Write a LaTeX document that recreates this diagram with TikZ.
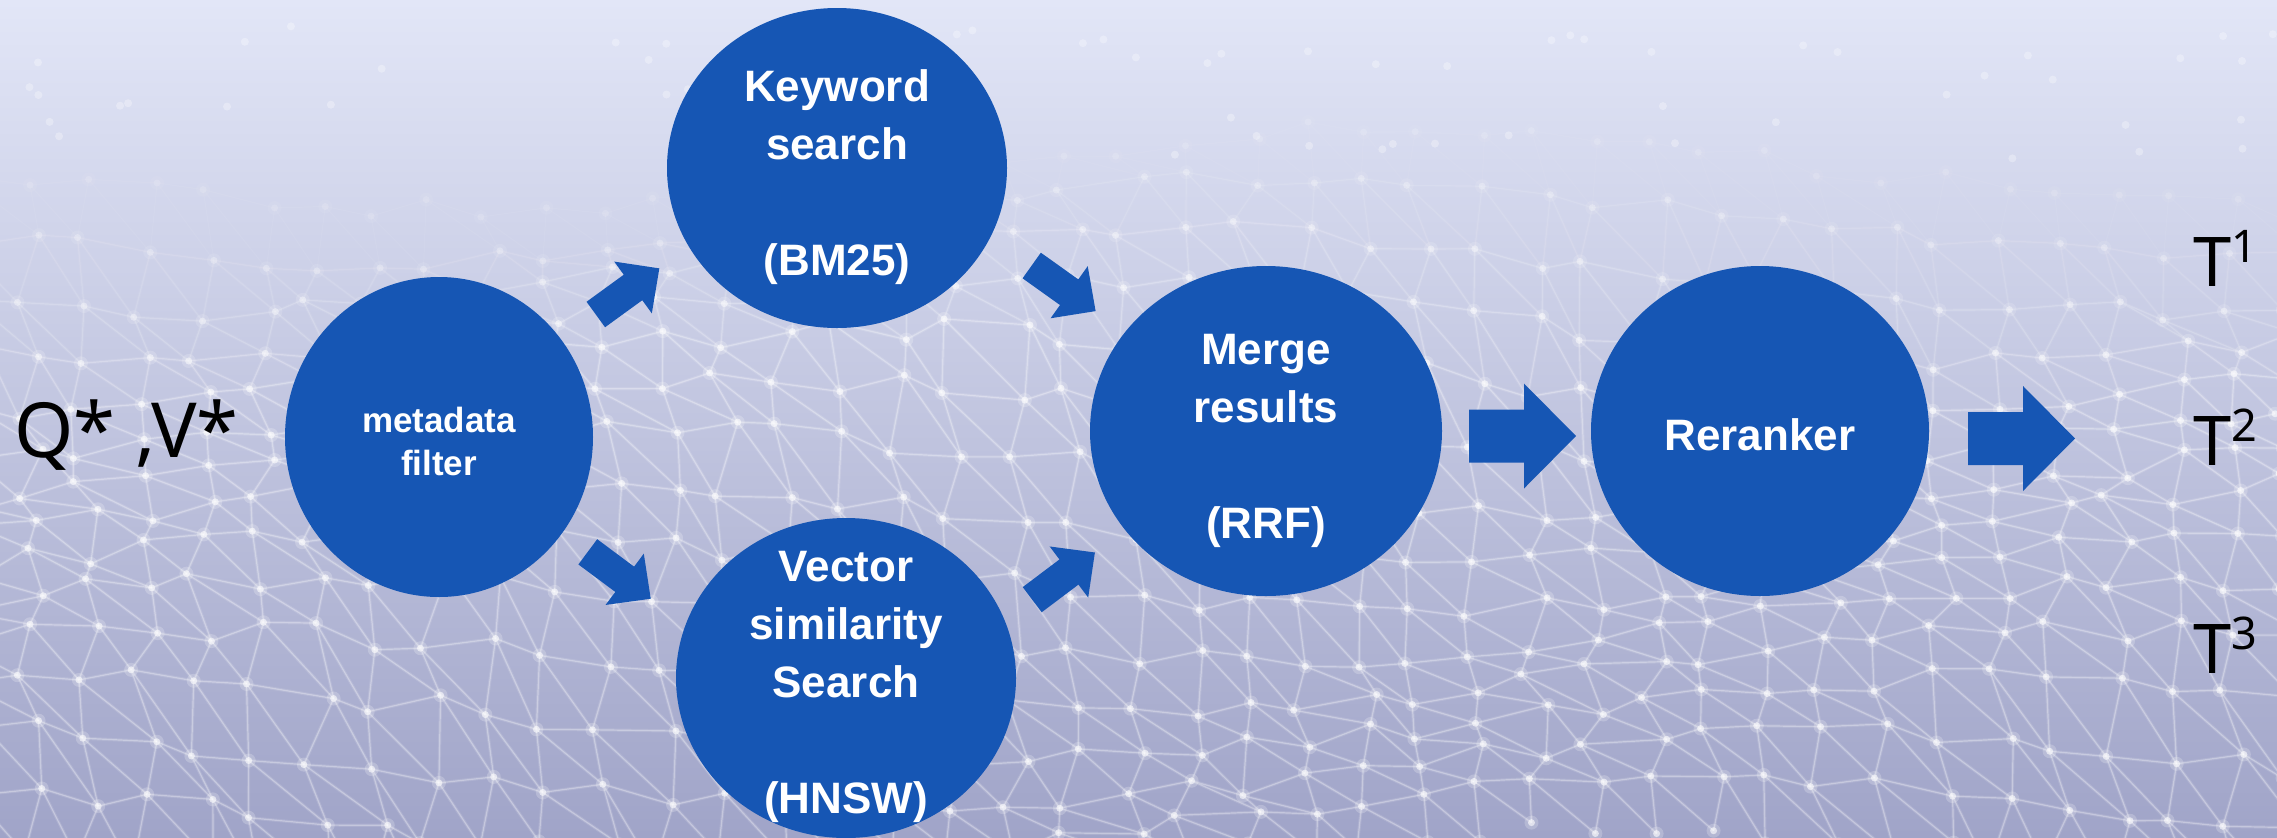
\documentclass[tikz,border=0pt]{standalone}
\usepackage{fontspec}
\setmainfont{Liberation Sans}
\newfontfamily\lblfont{Noto Sans}
\usetikzlibrary{shapes.geometric}
\definecolor{nodeblue}{RGB}{22,86,180}
\definecolor{bgtop}{RGB}{226,230,247}
\definecolor{bgmid}{RGB}{188,198,237}
\definecolor{bgbot}{RGB}{160,164,200}
\newcommand{\blockarrowS}[2]{%
  \fill[nodeblue, shift={(#1)}, rotate=#2] (0,-15.75) -- (46,-15.75) -- (46,-32) -- (78.5,0) -- (46,32) -- (46,15.75) -- (0,15.75) -- cycle;}
\newcommand{\blockarrowB}[1]{%
  \fill[nodeblue, shift={(#1)}] (0,-26.5) -- (55,-26.5) -- (55,-52.5) -- (107,0) -- (55,52.5) -- (55,26.5) -- (0,26.5) -- cycle;}
\begin{document}
\begin{tikzpicture}[x=0.5pt,y=-0.5pt,
  bubble/.style={ellipse, fill=nodeblue, draw=none, inner sep=0pt},
  btext/.style={text=white, font=\bfseries\fontsize{22}{29}\selectfont, align=center, inner sep=0pt},
  stext/.style={text=white, font=\bfseries\fontsize{17.5}{21.5}\selectfont, align=center, inner sep=0pt},
  lbl/.style={text=black, inner sep=0pt, anchor=base west},
  meshglow/.style={white, line width=1.6pt},
  meshline/.style={white, line width=0.6pt},
  meshdot/.style={white}]
\useasboundingbox (0,0) rectangle (2277,837);
\shade[top color=bgtop, middle color=bgmid, bottom color=bgbot] (0,0) rectangle (2277,837);
\begin{scope}
\clip (0,0) rectangle (2277,837);
\pgfmathsetseed{12}
\foreach \i in {0,...,40}{
  \foreach \j in {0,...,14}{
    \pgfmathsetmacro{\px}{\i*58-30+16*rand}
    \pgfmathsetmacro{\py}{170+\j*50+40*sin(\i*11+\j*23)+12*rand}
    \coordinate (m-\i-\j) at (\px,\py);
  }
}
\foreach \j in {0,...,13}{
  \pgfmathtruncatemacro{\nj}{\j+1}
  \pgfmathsetmacro{\op}{min(0.3,0.05+0.06*\j)}
  \foreach \i in {0,...,39}{
    \pgfmathtruncatemacro{\ni}{\i+1}
    \draw[meshglow, opacity=0.4*\op] (m-\i-\j) -- (m-\ni-\j) (m-\i-\j) -- (m-\i-\nj) (m-\i-\j) -- (m-\ni-\nj);
    \draw[meshline, opacity=\op] (m-\i-\j) -- (m-\ni-\j) (m-\i-\j) -- (m-\i-\nj) (m-\i-\j) -- (m-\ni-\nj);
  }
}
\foreach \j in {0,...,14}{
  \pgfmathsetmacro{\dop}{min(0.6,0.15+0.12*\j)}
  \foreach \i in {0,...,40}{
    \fill[meshdot, opacity=0.35*\dop] (m-\i-\j) circle (7);
    \fill[meshdot, opacity=\dop] (m-\i-\j) circle (3.5);
  }
}
\foreach \k in {1,...,60}{
  \pgfmathsetmacro{\dx}{1138+1138*rand}
  \pgfmathsetmacro{\dy}{90+70*rand}
  \coordinate (d-\k) at (\dx,\dy);
  \fill[white, opacity=0.3] (d-\k) circle (4);
}
\end{scope}
% bubbles
\node[bubble, minimum width=154pt, minimum height=160pt] (mf) at (439,437) {};
\node[bubble, minimum width=170pt, minimum height=160pt] (kw) at (837,168) {};
\node[bubble, minimum width=170pt, minimum height=160pt] (vs) at (846,678) {};
\node[bubble, minimum width=176pt, minimum height=165pt] (mr) at (1266,431) {};
\node[bubble, minimum width=169pt, minimum height=165pt] (rr) at (1760,431) {};
\node[stext] (mft) at (439,441) {metadata\\filter};
\node[btext] (kwt) at (837,177) {Keyword\\search\\~\\(BM25)};
\node[btext] (vst) at (846,687) {Vector\\similarity\\Search\\~\\(HNSW)};
\node[btext] (mrt) at (1266,441) {Merge\\results\\~\\(RRF)};
\node[btext] (rrt) at (1760,435) {Reranker};
% arrows
\coordinate (a1) at (595.8,314.5);
\coordinate (a2) at (1031.7,265.5);
\coordinate (a3) at (587.8,551.8);
\coordinate (a4) at (1032.2,599.7);
\coordinate (a5) at (1469,436);
\coordinate (a6) at (1968,438.5);
\blockarrowS{a1}{36}
\blockarrowS{a2}{-35.5}
\blockarrowS{a3}{-36.7}
\blockarrowS{a4}{37}
\blockarrowB{a5}
\blockarrowB{a6}
% labels
\node[lbl, font=\lblfont\fontsize{38}{40}\selectfont] (q) at (14,457) {Q* ,V*};
\node[lbl, font=\lblfont\fontsize{34.3}{40}\selectfont] (t1) at (2193,286) {T\raisebox{12pt}{\fontsize{22.5}{24}\selectfont 1}};
\node[lbl, font=\lblfont\fontsize{34.3}{40}\selectfont] (t2) at (2193,465) {T\raisebox{12pt}{\fontsize{22.5}{24}\selectfont 2}};
\node[lbl, font=\lblfont\fontsize{34.3}{40}\selectfont] (t3) at (2193,673) {T\raisebox{12pt}{\fontsize{22.5}{24}\selectfont 3}};
\end{tikzpicture}
\end{document}
